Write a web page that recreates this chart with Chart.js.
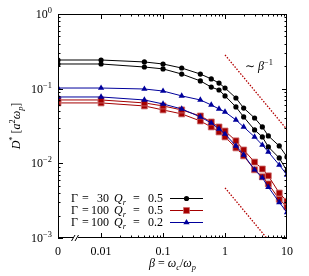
<!DOCTYPE html>
<html>
<head>
<meta charset="utf-8">
<script src="https://cdn.jsdelivr.net/npm/chart.js@4.4.0/dist/chart.umd.min.js"></script>
<style>
  html, body { margin: 0; padding: 0; background: #fff; }
  #wrap { width: 309px; height: 276px; }
</style>
</head>
<body>
<div id="wrap"><canvas id="chart"></canvas></div>
<script>
// beta = omega_c / omega_p ; 0 sits at the left end of the broken axis
const betas = [0, 0.01, 0.05, 0.1, 0.2, 0.4, 0.6, 0.8, 1, 1.5, 2, 3, 4, 5, 7.5, 10];

// D* [a^2 omega_p], two curves per parameter set
const g30q05Upper  = [0.242, 0.242, 0.228, 0.214, 0.189, 0.157, 0.135, 0.119, 0.102, 0.075, 0.055, 0.0405, 0.0307, 0.0233, 0.0171, 0.0122];
const g30q05Lower  = [0.214, 0.214, 0.195, 0.184, 0.157, 0.127, 0.105, 0.096, 0.080, 0.057, 0.0418, 0.028, 0.0226, 0.0166, 0.0118, 0.0079];
const g100q05Upper = [0.0706, 0.0706, 0.0644, 0.0587, 0.0519, 0.0431, 0.0358, 0.0307, 0.0271, 0.0200, 0.0151, 0.0104, 0.0084, 0.0068, 0.0040, 0.0031];
const g100q05Lower = [0.0644, 0.0644, 0.0587, 0.0519, 0.0459, 0.0369, 0.0307, 0.0263, 0.0226, 0.0161, 0.0126, 0.0082, 0.0066, 0.0053, 0.0033, 0.0026];
const g100q02Upper = [0.102, 0.102, 0.099, 0.093, 0.080, 0.0706, 0.0605, 0.0535, 0.0488, 0.0381, 0.0307, 0.0226, 0.0176, 0.0142, 0.0095, 0.0070];
const g100q02Lower = [0.0774, 0.0774, 0.0706, 0.0624, 0.0535, 0.0418, 0.0347, 0.0289, 0.0247, 0.0171, 0.0130, 0.0082, 0.0064, 0.0048, 0.0030, 0.0022];

// ~ beta^-1 guide lines
const guideUpperBeta = [1, 10];
const guideUpperD = [0.283, 0.0283];
const guideLowerBeta = [1, 4.7];
const guideLowerD = [0.0047, 0.001];

// ticks
const xTickValues = [0, 0.01, 0.1, 1, 10];
const xTickLabels = ['0', '0.01', '0.1', '1', '10'];
const yTickValues = [1e-3, 1e-2, 1e-1, 1];
const yTickExps = ['\u22123', '\u22122', '\u22121', '0'];

// legend
const legendGamma = ['30', '100', '100'];
const legendQ = ['0.5', '0.5', '0.2'];

const BETA_ZERO_AT = 0.00202; // where beta = 0 is drawn on the log axis
const toX = (b) => (b === 0 ? BETA_ZERO_AT : b);

const BLACK = '#000000';
const RED = '#a50000';
const BLUE = '#00009c';
const FONT = '"Liberation Serif", "DejaVu Serif", serif';

const styles = [
  { color: BLACK, pointStyle: 'circle', radius: 2.6, border: BLACK, bw: 0 },
  { color: RED, pointStyle: 'rect', radius: 4.2, border: 'rgba(205,110,110,0.8)', bw: 1 },
  { color: BLUE, pointStyle: 'triangle', radius: 3.6, border: BLUE, bw: 0 },
];

const series = (values, s) => ({
  data: betas.map((b, i) => ({ x: toX(b), y: values[i] })),
  borderColor: s.color,
  borderWidth: 1,
  backgroundColor: s.color,
  pointStyle: s.pointStyle,
  pointRadius: s.radius,
  pointBorderColor: s.border,
  pointBorderWidth: s.bw,
  pointBackgroundColor: s.color,
  tension: 0,
});

const guide = (xs, ys) => ({
  data: xs.map((x, i) => ({ x, y: ys[i] })),
  borderColor: '#b40000',
  borderWidth: 1.3,
  borderDash: [1.5, 1.5],
  pointRadius: 0,
  tension: 0,
});

// draw a string made of normal / italic / sub / sup pieces
function richWidth(ctx, parts, size) {
  let w = 0;
  parts.forEach((p) => {
    const s = p.sub || p.sup ? size * 0.7 : size;
    ctx.font = `${p.it ? 'italic ' : ''}${s}px ${FONT}`;
    w += ctx.measureText(p.t).width;
  });
  return w;
}
function drawRich(ctx, x, y, parts, size) {
  parts.forEach((p) => {
    const s = p.sub || p.sup ? size * 0.7 : size;
    ctx.font = `${p.it ? 'italic ' : ''}${s}px ${FONT}`;
    const dy = p.sub ? size * 0.25 : p.sup ? -size * 0.42 : 0;
    ctx.fillText(p.t, x, y + dy);
    x += ctx.measureText(p.t).width;
  });
  return x;
}

const decor = {
  id: 'decor',
  afterDatasetsDraw(chart) {
    const { ctx, chartArea: a, scales } = chart;
    const xs = scales.x, ys = scales.y;
    ctx.save();
    ctx.strokeStyle = '#000';
    ctx.fillStyle = '#000';
    ctx.lineWidth = 1;

    // frame
    ctx.strokeRect(a.left + 0.5, a.top + 0.5, a.right - a.left - 1, a.bottom - a.top - 1);

    // inward ticks
    ctx.beginPath();
    const xTick = (v, len) => {
      const px = Math.round(xs.getPixelForValue(v)) + 0.5;
      ctx.moveTo(px, a.bottom); ctx.lineTo(px, a.bottom - len);
      ctx.moveTo(px, a.top); ctx.lineTo(px, a.top + len);
    };
    const yTick = (v, len) => {
      const py = Math.round(ys.getPixelForValue(v)) + 0.5;
      ctx.moveTo(a.left, py); ctx.lineTo(a.left + len, py);
      ctx.moveTo(a.right, py); ctx.lineTo(a.right - len, py);
    };
    [-2, -1, 0].forEach((k) => {
      xTick(Math.pow(10, k), 5);
      for (let m = 2; m <= 9; m++) xTick(m * Math.pow(10, k), 2.5);
    });
    [-3, -2, -1].forEach((k) => {
      yTick(Math.pow(10, k), 5);
      for (let m = 2; m <= 9; m++) yTick(m * Math.pow(10, k), 2.5);
    });
    ctx.stroke();

    // broken axis mark
    ctx.fillStyle = '#fff';
    ctx.fillRect(73, a.bottom - 2, 5, 4);
    ctx.beginPath();
    [73, 76.5].forEach((x0) => {
      ctx.moveTo(x0 - 1.5, a.bottom + 3);
      ctx.lineTo(x0 + 2, a.bottom - 3);
    });
    ctx.stroke();
    ctx.fillStyle = '#000';

    // x tick labels
    ctx.textBaseline = 'alphabetic';
    ctx.font = `12px ${FONT}`;
    ctx.textAlign = 'center';
    xTickValues.forEach((v, i) => {
      ctx.fillText(xTickLabels[i], xs.getPixelForValue(toX(v)), a.bottom + 17);
    });

    // y tick labels: 10^n
    ctx.textAlign = 'left';
    yTickValues.forEach((v, i) => {
      const parts = [{ t: '10' }, { t: yTickExps[i], sup: true }];
      const w = richWidth(ctx, parts, 12);
      drawRich(ctx, a.left - 6 - w, ys.getPixelForValue(v) + 4, parts, 12);
    });

    // x title
    const xt = [{ t: '\u03b2', it: true }, { t: ' = ' }, { t: '\u03c9', it: true }, { t: 'c', it: true, sub: true },
      { t: '/' }, { t: '\u03c9', it: true }, { t: 'p', it: true, sub: true }];
    drawRich(ctx, (a.left + a.right) / 2 - richWidth(ctx, xt, 12) / 2, 267, xt, 12);

    // y title
    const yt = [{ t: 'D', it: true }, { t: '*', sup: true }, { t: ' [' }, { t: 'a', it: true }, { t: '2', sup: true },
      { t: '\u03c9', it: true }, { t: 'p', it: true, sub: true }, { t: ']' }];
    ctx.save();
    ctx.translate(20, (a.top + a.bottom) / 2);
    ctx.rotate(-Math.PI / 2);
    drawRich(ctx, -richWidth(ctx, yt, 12) / 2, 0, yt, 12);
    ctx.restore();

    // slope annotation
    drawRich(ctx, 245, 70, [{ t: '\u223c ' }, { t: '\u03b2', it: true }, { t: '\u22121', sup: true }], 12);

    // legend
    legendGamma.forEach((g, i) => {
      const y = 202 + i * 12;
      ctx.font = `12px ${FONT}`;
      ctx.textAlign = 'left';
      ctx.fillText('\u0393', 71, y);
      ctx.fillText('=', 82, y);
      ctx.textAlign = 'right';
      ctx.fillText(g, 109, y);
      ctx.textAlign = 'left';
      drawRich(ctx, 114, y, [{ t: 'Q', it: true }, { t: 'r', it: true, sub: true }], 12);
      ctx.font = `12px ${FONT}`;
      ctx.fillText('=', 133, y);
      ctx.textAlign = 'right';
      ctx.fillText(legendQ[i], 163, y);
      ctx.textAlign = 'left';

      const s = styles[i];
      const ly = y - 4;
      ctx.strokeStyle = s.color;
      ctx.beginPath();
      ctx.moveTo(170, ly + 0.5); ctx.lineTo(203, ly + 0.5);
      ctx.stroke();
      ctx.fillStyle = s.color;
      ctx.strokeStyle = s.border;
      ctx.lineWidth = s.bw;
      Chart.helpers.drawPoint(ctx, { pointStyle: s.pointStyle, radius: s.radius, rotation: 0, borderWidth: s.bw }, 186.5, ly + 0.5);
      ctx.lineWidth = 1;
      ctx.fillStyle = '#000';
    });
    ctx.restore();
  },
};

new Chart(document.getElementById('chart'), {
  type: 'line',
  data: {
    datasets: [
      guide(guideUpperBeta, guideUpperD),
      guide(guideLowerBeta, guideLowerD),
      series(g100q02Upper, styles[2]),
      series(g100q02Lower, styles[2]),
      series(g100q05Upper, styles[1]),
      series(g100q05Lower, styles[1]),
      series(g30q05Upper, styles[0]),
      series(g30q05Lower, styles[0]),
    ],
  },
  options: {
    responsive: true,
    maintainAspectRatio: false,
    animation: false,
    layout: { padding: { top: 14, right: 22, left: 0, bottom: 0 } },
    scales: {
      x: {
        type: 'logarithmic',
        min: BETA_ZERO_AT,
        max: 10,
        grid: { display: false },
        border: { display: false },
        ticks: { display: false },
        afterFit: (s) => { s.height = 38; },
      },
      y: {
        type: 'logarithmic',
        min: 1e-3,
        max: 1,
        grid: { display: false },
        border: { display: false },
        ticks: { display: false },
        afterFit: (s) => { s.width = 58; },
      },
    },
    plugins: {
      legend: { display: false },
      tooltip: { enabled: false },
    },
  },
  plugins: [decor],
});
</script>
</body>
</html>
